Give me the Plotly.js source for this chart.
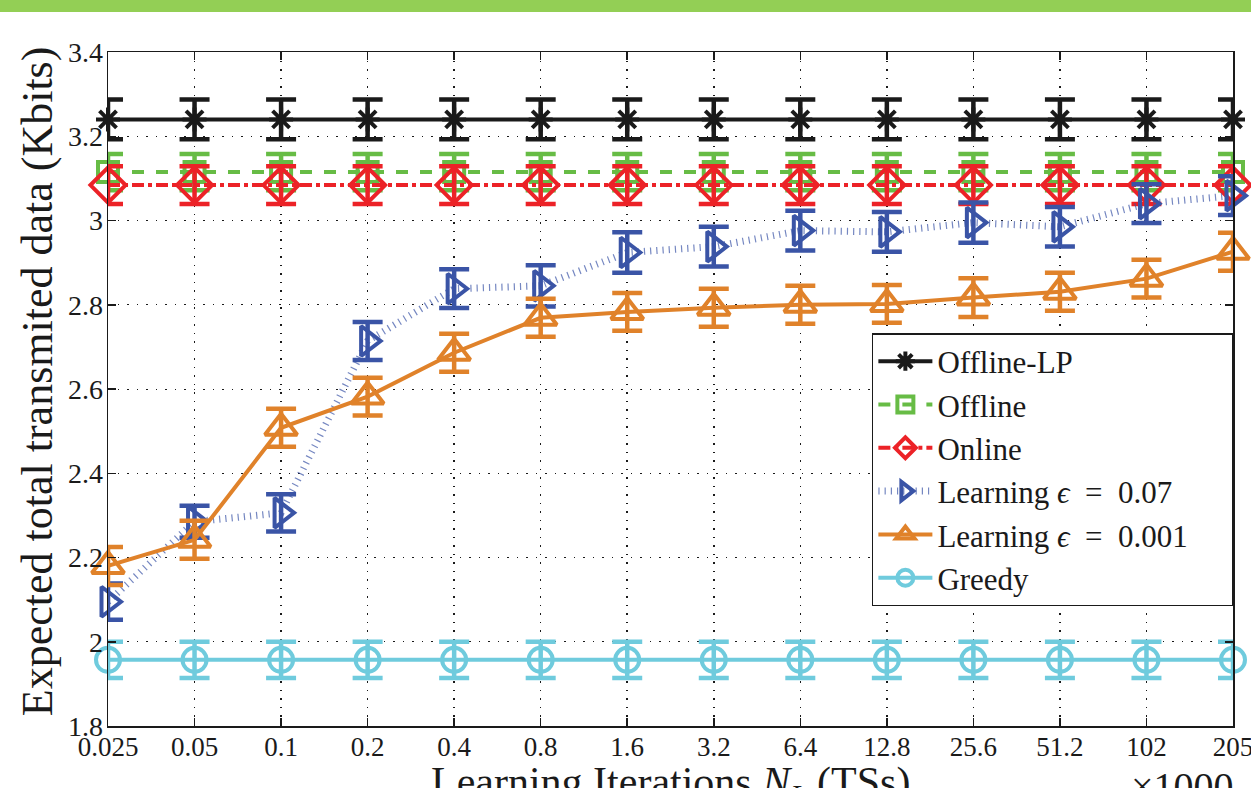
<!DOCTYPE html>
<html>
<head>
<meta charset="utf-8">
<script src="https://cdn.plot.ly/plotly-3.0.1.min.js"></script>
<style>
  html, body { margin: 0; padding: 0; background: #ffffff; overflow: hidden; }
  #topbar { position: absolute; left: 0; top: 0; width: 1251px; height: 12px; background: #93cf55; z-index: 10; }
  #chart { width: 1251px; height: 788px; }
</style>
</head>
<body>
<div id="topbar"></div>
<div id="chart"></div>
<script>
// ---- data ----
const categories = ['0.025','0.05','0.1','0.2','0.4','0.8','1.6','3.2','6.4','12.8','25.6','51.2','102','205'];

const offlineLP = [3.24,3.24,3.24,3.24,3.24,3.24,3.24,3.24,3.24,3.24,3.24,3.24,3.24,3.24];
const offlineLPErr = [0.047,0.047,0.047,0.047,0.047,0.047,0.047,0.047,0.047,0.047,0.047,0.047,0.047,0.047];

const offline = [3.115,3.115,3.115,3.115,3.115,3.115,3.115,3.115,3.115,3.115,3.115,3.115,3.115,3.115];
const offlineErr = [0.043,0.043,0.043,0.043,0.043,0.043,0.043,0.043,0.043,0.043,0.043,0.043,0.043,0.043];

const online = [3.084,3.084,3.084,3.084,3.084,3.084,3.084,3.084,3.084,3.084,3.084,3.084,3.084,3.084];
const onlineErr = [0.045,0.045,0.045,0.045,0.045,0.045,0.045,0.045,0.045,0.045,0.045,0.045,0.045,0.045];

const learning07 = [2.095,2.285,2.306,2.714,2.838,2.845,2.924,2.938,2.976,2.973,2.995,2.985,3.040,3.059];
const learning07Err = [0.043,0.038,0.044,0.045,0.046,0.049,0.048,0.047,0.047,0.047,0.048,0.047,0.046,0.046];

const learning001 = [2.180,2.242,2.508,2.582,2.686,2.769,2.783,2.793,2.800,2.802,2.817,2.831,2.862,2.926];
const learning001Err = [0.045,0.045,0.045,0.045,0.045,0.045,0.045,0.045,0.045,0.045,0.046,0.045,0.045,0.045];

const greedy = [1.957,1.957,1.957,1.957,1.957,1.957,1.957,1.957,1.957,1.957,1.957,1.957,1.957,1.957];
const greedyErr = [0.043,0.043,0.043,0.043,0.043,0.043,0.043,0.043,0.043,0.043,0.043,0.043,0.043,0.043];

const yTicks = [1.8,2,2.2,2.4,2.6,2.8,3,3.2,3.4];
const yTickText = ['1.8','2','2.2','2.4','2.6','2.8','3','3.2','3.4'];

const seriesNames = ['Offline-LP', 'Offline', 'Online',
  'Learning <i>ϵ</i>\u00a0\u00a0=\u00a0\u00a00.07',
  'Learning <i>ϵ</i>\u00a0\u00a0=\u00a0\u00a00.001\u00a0\u00a0\u00a0\u00a0\u00a0',
  'Greedy'];

// ---- styling ----
const FONT = '"Liberation Serif", "Times New Roman", serif';

function series(name, y, err, color, dash, lineWidth, symbol, size) {
  return {
    type: 'scatter', mode: 'lines+markers', name: name,
    x: categories, y: y,
    cliponaxis: false,
    line: { color: color, width: lineWidth, dash: dash },
    marker: { symbol: symbol, size: size, color: color, line: { color: color, width: 4 } },
    error_y: { type: 'data', array: err, visible: true, color: color, thickness: 4.5, width: 15 }
  };
}

const traces = [
  series(seriesNames[0], offlineLP, offlineLPErr, '#1a1a1a', 'solid', 4, 'asterisk-open', 20),
  series(seriesNames[1], offline, offlineErr, '#67bc45', 'dash', 4, 'square-open', 20),
  series(seriesNames[2], online, onlineErr, '#ec2227', 'dashdot', 4, 'diamond-open', 27),
  series(seriesNames[3], learning07, learning07Err, '#3a54a6', '1.2px,5px', 7, 'triangle-right-open', 26),
  series(seriesNames[4], learning001, learning001Err, '#e0822a', 'solid', 4, 'triangle-up-open', 28),
  series(seriesNames[5], greedy, greedyErr, '#6fcbdd', 'solid', 4, 'circle-open', 24)
];
traces[3].line.color = 'rgba(58,84,166,0.7)';
traces[3].error_y.color = '#3a54a6';

const layout = {
  width: 1251, height: 788,
  paper_bgcolor: '#ffffff', plot_bgcolor: '#ffffff',
  margin: { l: 108, r: 18, t: 52, b: 62, autoexpand: false },
  font: { family: FONT, color: '#1a1a1a', size: 26 },
  showlegend: true,
  legend: {
    x: 0.679, y: 0.583, xanchor: 'left', yanchor: 'top',
    bgcolor: '#ffffff', bordercolor: '#1a1a1a', borderwidth: 1.5,
    font: { family: FONT, size: 31, color: '#1a1a1a' },
    itemwidth: 54, tracegroupgap: 0
  },
  xaxis: {
    type: 'category',
    range: [0, categories.length - 1],
    showline: true, linecolor: '#1a1a1a', linewidth: 1.5, mirror: 'ticks',
    ticks: 'inside', ticklen: 8, tickcolor: '#1a1a1a', tickwidth: 1.5,
    showgrid: true, gridcolor: '#1a1a1a', gridwidth: 1.5, griddash: '1.5px,7px',
    zeroline: false,
    tickfont: { family: FONT, size: 27, color: '#1a1a1a' },
    ticklabelstandoff: -4,
    automargin: false
  },
  yaxis: {
    range: [1.8, 3.4],
    tickmode: 'array', tickvals: yTicks, ticktext: yTickText,
    showline: true, linecolor: '#1a1a1a', linewidth: 1.5, mirror: 'ticks',
    ticks: 'inside', ticklen: 8, tickcolor: '#1a1a1a', tickwidth: 1.5,
    showgrid: true, gridcolor: '#1a1a1a', gridwidth: 1, griddash: '1.5px,8px',
    zeroline: false,
    tickfont: { family: FONT, size: 28, color: '#1a1a1a' },
    ticklabelstandoff: -2,
    automargin: false
  },
  annotations: [
    { text: 'Learning Iterations <i>N</i><sub><i>L</i></sub> (TSs)', xref: 'paper', yref: 'paper',
      x: 0.5, y: -0.046, xanchor: 'center', yanchor: 'top', showarrow: false,
      font: { family: FONT, size: 42, color: '#1a1a1a' } },
    { text: 'Expected total transmited data (Kbits)', xref: 'paper', yref: 'paper',
      x: -0.062, y: 0.512, xanchor: 'center', yanchor: 'middle', textangle: -90, showarrow: false,
      font: { family: FONT, size: 44, color: '#1a1a1a' } },
    { text: '×1000', xref: 'paper', yref: 'paper', x: 0.955, y: -0.054, xanchor: 'center', yanchor: 'top',
      showarrow: false, font: { family: FONT, size: 40, color: '#1a1a1a' } }
  ]
};

Plotly.newPlot('chart', traces, layout, { displayModeBar: false, staticPlot: true });
</script>
</body>
</html>
